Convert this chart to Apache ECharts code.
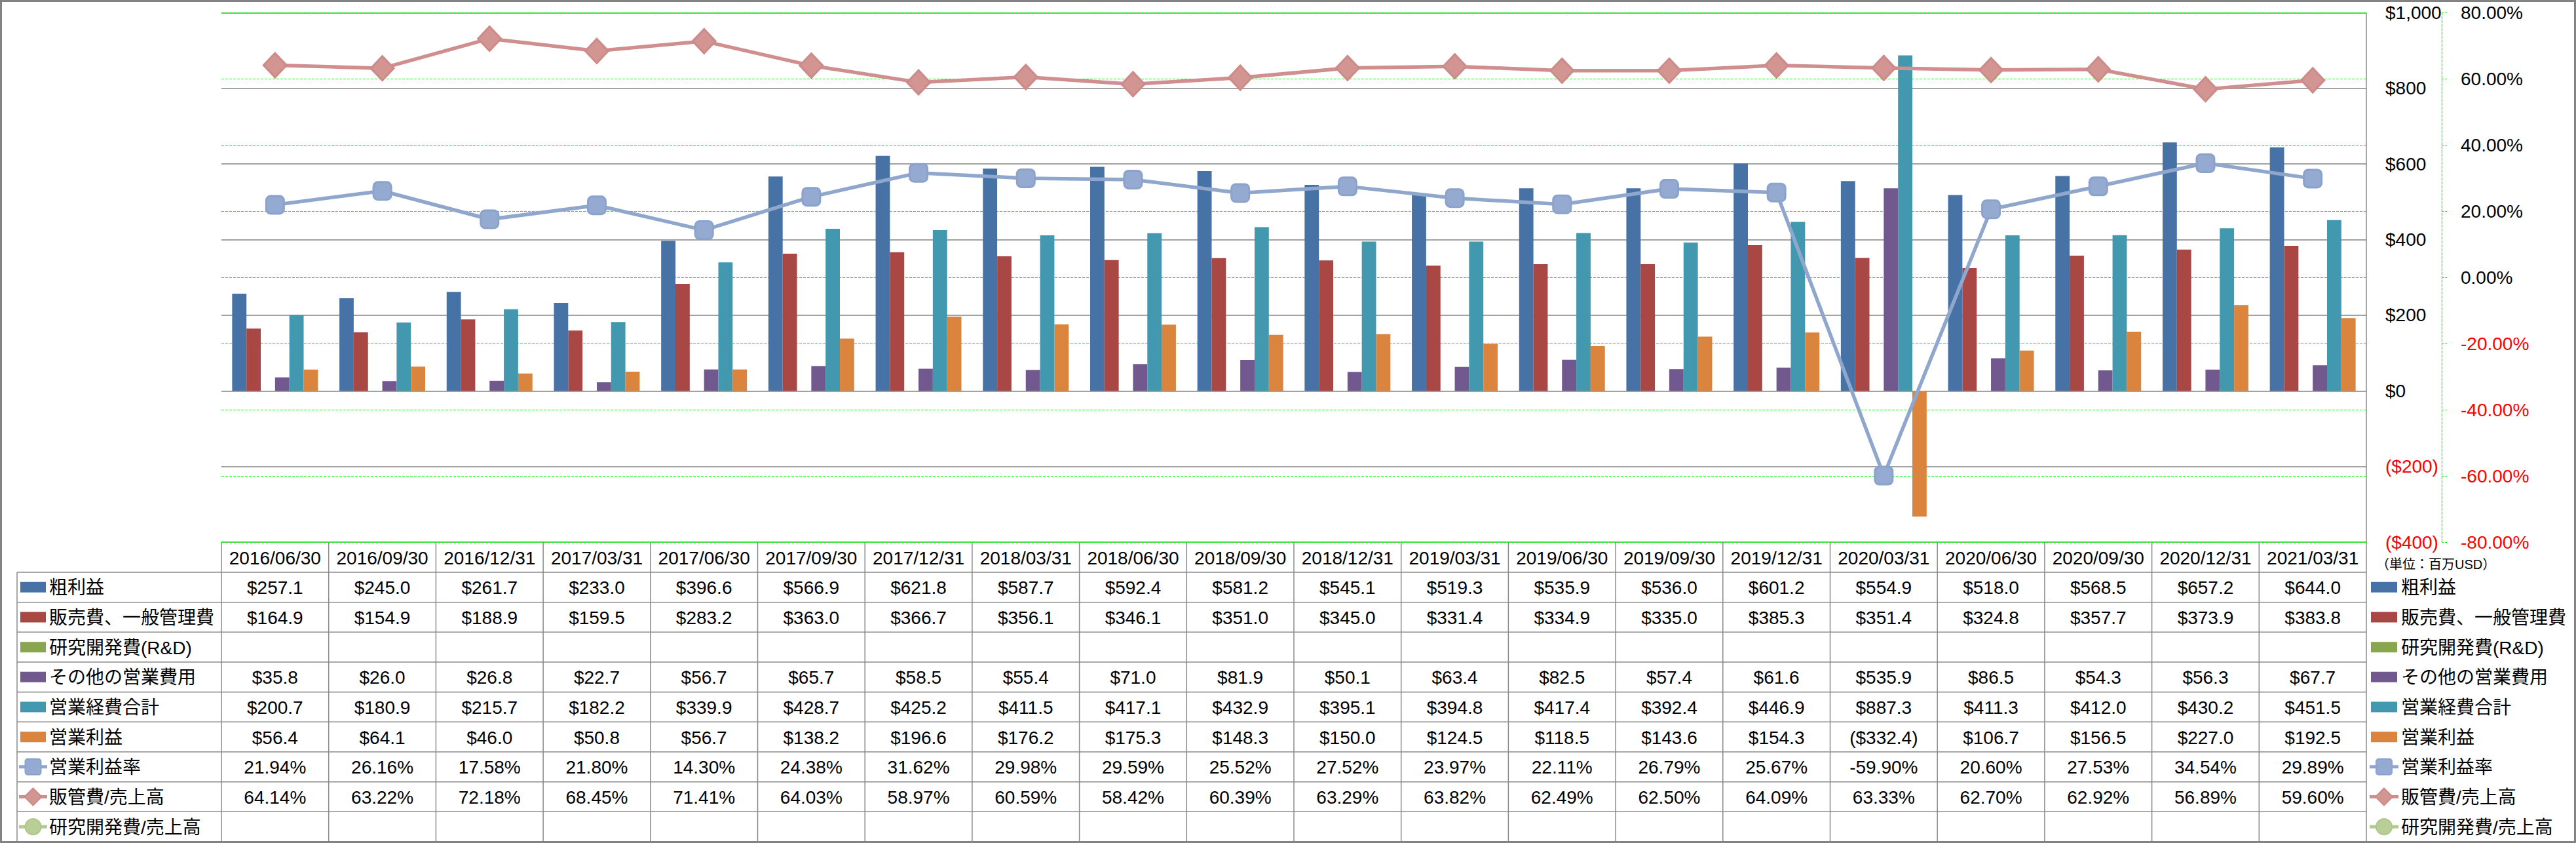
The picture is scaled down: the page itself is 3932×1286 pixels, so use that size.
<!DOCTYPE html>
<html><head><meta charset="utf-8">
<script src="https://cdn.jsdelivr.net/npm/echarts/dist/echarts.min.js"></script>
<style>html,body{margin:0;padding:0;background:#fff}#c{width:3932px;height:1286px}</style>
</head><body><div id="c"></div>
<script>
// ---------- data ----------
const dates = ['2016/06/30','2016/09/30','2016/12/31','2017/03/31','2017/06/30','2017/09/30','2017/12/31','2018/03/31','2018/06/30','2018/09/30','2018/12/31','2019/03/31','2019/06/30','2019/09/30','2019/12/31','2020/03/31','2020/06/30','2020/09/30','2020/12/31','2021/03/31'];
const grossProfit = [257.1,245.0,261.7,233.0,396.6,566.9,621.8,587.7,592.4,581.2,545.1,519.3,535.9,536.0,601.2,554.9,518.0,568.5,657.2,644.0];
const sgaExpense  = [164.9,154.9,188.9,159.5,283.2,363.0,366.7,356.1,346.1,351.0,345.0,331.4,334.9,335.0,385.3,351.4,324.8,357.7,373.9,383.8];
const rndExpense  = [];
const otherOpex   = [35.8,26.0,26.8,22.7,56.7,65.7,58.5,55.4,71.0,81.9,50.1,63.4,82.5,57.4,61.6,535.9,86.5,54.3,56.3,67.7];
const totalOpex   = [200.7,180.9,215.7,182.2,339.9,428.7,425.2,411.5,417.1,432.9,395.1,394.8,417.4,392.4,446.9,887.3,411.3,412.0,430.2,451.5];
const opIncome    = [56.4,64.1,46.0,50.8,56.7,138.2,196.6,176.2,175.3,148.3,150.0,124.5,118.5,143.6,154.3,-332.4,106.7,156.5,227.0,192.5];
const opMargin    = [21.94,26.16,17.58,21.80,14.30,24.38,31.62,29.98,29.59,25.52,27.52,23.97,22.11,26.79,25.67,-59.90,20.60,27.53,34.54,29.89];
const sgaRatio    = [64.14,63.22,72.18,68.45,71.41,64.03,58.97,60.59,58.42,60.39,63.29,63.82,62.49,62.50,64.09,63.33,62.70,62.92,56.89,59.60];
const rndRatio    = [];
const seriesNames = ['粗利益','販売費、一般管理費','研究開発費(R&D)','その他の営業費用','営業経費合計','営業利益','営業利益率','販管費/売上高','研究開発費/売上高'];
const usdTicks = [-400,-200,0,200,400,600,800,1000];
const pctTicks = [-80,-60,-40,-20,0,20,40,60,80];
const unitNote = '（単位：百万USD）';

// ---------- styles ----------
const W = 3932, H = 1286;
const GL = 338, GR = 3612, GT = 19.5, GB = 827;
const ROW0 = 873, ROWH = 45.67;
const FONT = '"Liberation Sans","Noto Sans CJK JP",sans-serif';
const FS = 28;
const barColors = ['#4672A6','#A94745','#89A54E','#71588F','#4298AF','#DB843D'];
const lineColors = ['#8FA6CD','#D08F8E','#B5CA92'];
const markerFill = ['#95AAD0','#D39592','#B9CD96'];
const markerBorder = ['#8BA2CC','#CC8B89','#AFC68C'];
const gridGray = '#838383';
const green = '#00FF00';

const barData = [grossProfit, sgaExpense, rndExpense, otherOpex, totalOpex, opIncome];
const lineData = [opMargin, sgaRatio, rndRatio];
const rowData = [grossProfit, sgaExpense, rndExpense, otherOpex, totalOpex, opIncome, opMargin, sgaRatio, rndRatio];

function fmtUsd(v){ if (v == null) return ''; return v < 0 ? '($' + Math.abs(v).toFixed(1) + ')' : '$' + v.toFixed(1); }
function fmtPct(v){ if (v == null) return ''; return v.toFixed(2) + '%'; }

const series = [];
barData.forEach((d, i) => {
  series.push({
    name: seriesNames[i], type: 'bar', yAxisIndex: 0, data: d,
    barGap: '0%', barCategoryGap: '20%',
    itemStyle: { color: barColors[i] }
  });
});
const symbols = ['roundRect','diamond','circle'];
const symSizes = [27,[35,37],26];
lineData.forEach((d, i) => {
  series.push({
    name: seriesNames[6 + i], type: 'line', yAxisIndex: 1, data: d,
    symbol: symbols[i], symbolSize: symSizes[i], showSymbol: true,
    lineStyle: { color: lineColors[i], width: 5.5 },
    itemStyle: { color: markerFill[i], borderColor: markerBorder[i], borderWidth: 3 },
    z: 5
  });
});

// ---------- table & legend graphics ----------
const g = [];
const colW = (GR - GL) / dates.length;
const lineStyle = { stroke: '#8A8A8A', lineWidth: 1.5 };
for (let r = 0; r <= rowData.length; r++) {
  const y = ROW0 + r * ROWH;
  g.push({ type: 'line', shape: { x1: 26, y1: y, x2: GR, y2: y }, style: lineStyle, silent: true });
}
g.push({ type: 'line', shape: { x1: 26, y1: ROW0, x2: 26, y2: ROW0 + rowData.length * ROWH }, style: lineStyle, silent: true });
for (let c = 0; c <= dates.length; c++) {
  const x = GL + c * colW;
  g.push({ type: 'line', shape: { x1: x, y1: GB, x2: x, y2: ROW0 + rowData.length * ROWH }, style: lineStyle, silent: true });
}
g.push({ type: 'line', shape: { x1: GR, y1: GT, x2: GR, y2: GB }, style: lineStyle, silent: true });

function txt(text, x, y, align, size, color) {
  return { type: 'text', silent: true, style: { text: text, x: x, y: y, fill: color || '#000', font: (size || FS) + 'px ' + FONT,
    textAlign: align, textVerticalAlign: 'middle', align: align, verticalAlign: 'middle' } };
}
function icon(i, x0, x1, cy) {
  const els = [];
  if (i < 6) {
    els.push({ type: 'rect', silent: true, shape: { x: x0 + 2, y: cy - 8, width: x1 - x0 - 4, height: 16 }, style: { fill: barColors[i] } });
  } else {
    const k = i - 6, cx = (x0 + x1) / 2;
    els.push({ type: 'line', silent: true, shape: { x1: x0, y1: cy, x2: x1, y2: cy }, style: { stroke: lineColors[k], lineWidth: 5 } });
    const ms = { fill: markerFill[k], stroke: markerBorder[k], lineWidth: 2 };
    if (k === 0) els.push({ type: 'rect', silent: true, shape: { x: cx - 12, y: cy - 12, width: 24, height: 24, r: 4 }, style: ms });
    else if (k === 1) els.push({ type: 'polygon', silent: true, shape: { points: [[cx, cy - 13], [cx + 13, cy], [cx, cy + 13], [cx - 13, cy]] }, style: ms });
    else els.push({ type: 'circle', silent: true, shape: { cx: cx, cy: cy, r: 12 }, style: ms });
  }
  return els;
}
rowData.forEach((d, r) => {
  const cy = ROW0 + (r + 0.5) * ROWH;
  icon(r, 29, 72, cy).forEach(e => g.push(e));
  g.push(txt(seriesNames[r], 75, cy + 1, 'left'));
  icon(r, 3617, 3661, cy).forEach(e => g.push(e));
  g.push(txt(seriesNames[r], 3665, cy + 1, 'left'));
  for (let c = 0; c < dates.length; c++) {
    const v = d[c];
    const s = r < 6 ? fmtUsd(v) : fmtPct(v);
    if (s) g.push(txt(s, GL + (c + 0.5) * colW, cy + 1, 'center'));
  }
});
g.push(txt(unitNote, 3627, 861, 'left', 20));
g.push({ type: 'rect', silent: true, shape: { x: 1.5, y: 1.5, width: W - 3, height: H - 3 }, style: { fill: 'none', stroke: gridGray, lineWidth: 3 } });

const chart = echarts.init(document.getElementById('c'), null, { renderer: 'svg', width: W, height: H });
chart.setOption({
  animation: false,
  backgroundColor: '#fff',
  grid: { left: GL, right: W - GR, top: GT, bottom: H - GB, containLabel: false },
  xAxis: {
    type: 'category', data: dates,
    axisLine: { show: false }, axisTick: { show: false },
    axisLabel: { fontSize: FS, fontFamily: FONT, color: '#000', margin: 24, verticalAlign: 'middle', interval: 0 }
  },
  yAxis: [
    {
      type: 'value', position: 'right', min: usdTicks[0], max: usdTicks[usdTicks.length - 1], interval: 200,
      axisLine: { show: false }, axisTick: { show: false },
      splitLine: { show: true, lineStyle: { color: gridGray, width: 1.6 } },
      axisLabel: {
        margin: 29, align: 'left', fontSize: FS, fontFamily: FONT, color: '#000',
        formatter: v => v < 0 ? '{n|($' + Math.abs(v) + ')}' : '$' + v.toLocaleString('en-US'),
        rich: { n: { color: '#FF0000', fontSize: FS, fontFamily: FONT } }
      }
    },
    {
      type: 'value', position: 'right', offset: 115, min: pctTicks[0], max: pctTicks[pctTicks.length - 1], interval: 20,
      axisLine: { show: true, lineStyle: { color: green, width: 1.2, type: [4, 2] } },
      axisTick: { show: true, length: 8, lineStyle: { color: green, width: 1.2, type: [3, 2] } },
      splitLine: { show: true, lineStyle: { color: green, width: 1.2, type: [4, 2] } },
      axisLabel: {
        margin: 29, align: 'left', fontSize: FS, fontFamily: FONT, color: '#000',
        formatter: v => v < 0 ? '{n|' + v.toFixed(2) + '%}' : v.toFixed(2) + '%',
        rich: { n: { color: '#FF0000', fontSize: FS, fontFamily: FONT } }
      }
    }
  ],
  series: series,
  graphic: { elements: g }
});
</script></body></html>
